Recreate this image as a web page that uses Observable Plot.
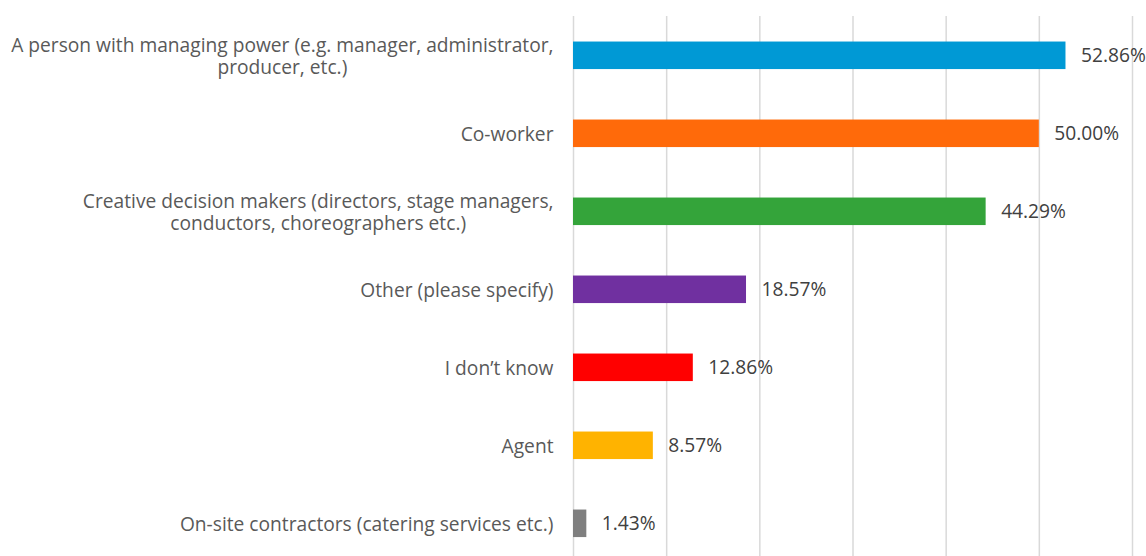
<!DOCTYPE html>
<html>
<head>
<meta charset="utf-8">
<script src="https://cdn.jsdelivr.net/npm/d3@7"></script>
<script src="https://cdn.jsdelivr.net/npm/@observablehq/plot@0.6"></script>
<style>
  html, body { margin: 0; padding: 0; background: #fff; overflow: hidden; }
</style>
</head>
<body>
<div id="chart"></div>
<script>
const categories = [
  "A person with managing power (e.g. manager, administrator,\nproducer, etc.)",
  "Co-worker",
  "Creative decision makers (directors, stage managers,\nconductors, choreographers etc.)",
  "Other (please specify)",
  "I don\u2019t know",
  "Agent",
  "On-site contractors (catering services etc.)"
];
const values = [52.86, 50.00, 44.29, 18.57, 12.86, 8.57, 1.43];
const colors = ["#0099D5", "#FF6A0A", "#34A43A", "#7030A0", "#FF0000", "#FFB300", "#7F7F7F"];
const xTicks = [0, 10, 20, 30, 40, 50, 60];

const data = categories.map((c, i) => ({category: c, value: values[i], color: colors[i]}));

const chart = Plot.plot({
  width: 1146,
  height: 556,
  marginTop: 16,
  marginBottom: 0,
  marginLeft: 573,
  marginRight: 14,
  style: {fontFamily: "'Open Sans', sans-serif", fontSize: "19.2px", color: "#595959", background: "#fff"},
  x: {domain: [0, 60], axis: null},
  y: {domain: categories, range: [16.3, 562.3], paddingInner: 0.647, paddingOuter: 0.3235, round: false, label: null},
  marks: [
    Plot.ruleX(xTicks, {stroke: "#d9d9d9", strokeWidth: 1.5}),
    Plot.barX(data, {x: "value", y: "category", fill: "color"}),
    Plot.text(data, {x: "value", y: "category", text: d => d.value.toFixed(2) + "%", textAnchor: "start", dx: 15, fill: "#404040", fontSize: 19.2}),
    Plot.axisY({tickSize: 0, tickPadding: 20, label: null, fontSize: 19.2, lineHeight: 1.15, fill: "#595959"})
  ]
});
document.getElementById("chart").appendChild(chart);

// center multi-line labels relative to each other, keeping the block right-aligned
chart.querySelectorAll("g[aria-label='y-axis tick label'] text").forEach(t => {
  const spans = t.querySelectorAll("tspan");
  if (spans.length > 1) {
    let w = 0;
    spans.forEach(s => { w = Math.max(w, s.getComputedTextLength()); });
    t.setAttribute("text-anchor", "middle");
    const tr = t.getAttribute("transform") || "";
    t.setAttribute("transform", tr + ` translate(${-w / 2},0)`);
  }
});
</script>
</body>
</html>
